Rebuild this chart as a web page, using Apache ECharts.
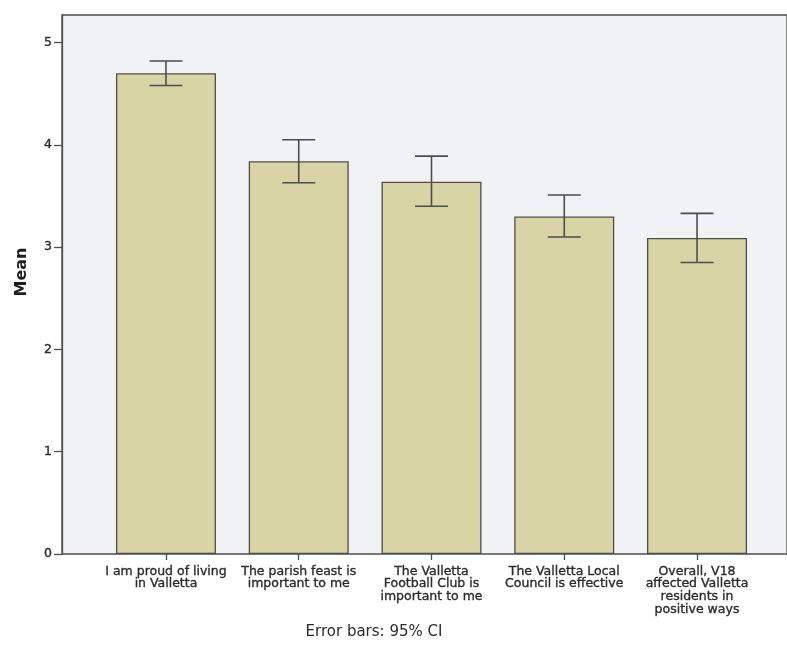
<!DOCTYPE html>
<html>
<head>
<meta charset="utf-8">
<title>Mean agreement scores</title>
<script src="https://cdn.jsdelivr.net/npm/echarts@6/dist/echarts.min.js"></script>
<style>
  html, body { margin: 0; padding: 0; background: #ffffff; }
  #chart { width: 787px; height: 648px; }
</style>
</head>
<body>
<div id="chart"></div>
<script>
// Survey statements (category labels, wrapped as printed under each bar)
var categories = [
  'I am proud of living\nin Valletta',
  'The parish feast is\nimportant to me',
  'The Valletta\nFootball Club is\nimportant to me',
  'The Valletta Local\nCouncil is effective',
  'Overall, V18\naffected Valletta\nresidents in\npositive ways'
];
// Mean score per statement
var means = [4.70, 3.84, 3.64, 3.30, 3.09];
// 95% confidence interval bounds
var ciLower = [4.58, 3.63, 3.40, 3.10, 2.85];
var ciUpper = [4.82, 4.05, 3.89, 3.51, 3.33];
// Value axis ticks
var yTicks = [0, 1, 2, 3, 4, 5];

var yMax = 5.27;
var textColor = '#2b2b2b';
var lineColor = '#4d4d4d';
var fontFamily = '"DejaVu Sans", Verdana, sans-serif';

var errorData = categories.map(function (c, i) { return [i, ciLower[i], ciUpper[i]]; });

var chart = echarts.init(document.getElementById('chart'), null, { renderer: 'canvas' });

chart.setOption({
  animation: false,
  backgroundColor: '#ffffff',
  textStyle: { fontFamily: fontFamily },
  grid: [
    // plot frame and background
    { left: 62, right: -14, top: 15, bottom: 94, show: true,
      backgroundColor: '#f1f2f4', borderColor: lineColor, borderWidth: 1.3 },
    // bar layout area
    { left: 99.6, right: 23.6, top: 15, bottom: 94 }
  ],
  xAxis: [
    { type: 'value', gridIndex: 0, min: 0, max: 1, show: false },
    {
      type: 'category', gridIndex: 1, data: categories,
      axisLine: { show: false },
      axisTick: { show: true, alignWithLabel: true, length: 6,
                  lineStyle: { color: lineColor, width: 1.3 } },
      axisLabel: { color: textColor, fontSize: 12.5, lineHeight: 12.7,
                   margin: 11, interval: 0, fontFamily: fontFamily,
                   textBorderColor: textColor, textBorderWidth: 0.35 },
      splitLine: { show: false }
    }
  ],
  yAxis: [
    {
      type: 'value', gridIndex: 0, min: 0, max: yMax,
      axisLine: { show: true, lineStyle: { color: lineColor, width: 1.3 } },
      axisTick: { show: true, length: 8, customValues: yTicks,
                  lineStyle: { color: lineColor, width: 1.3 } },
      axisLabel: {
        color: textColor, fontSize: 12.5, margin: 10, fontFamily: fontFamily,
        customValues: yTicks,
        textBorderColor: textColor, textBorderWidth: 0.35
      },
      splitLine: { show: false }
    },
    { type: 'value', gridIndex: 1, min: 0, max: yMax, show: false }
  ],
  series: [
    {
      type: 'bar', xAxisIndex: 1, yAxisIndex: 1,
      data: means, barWidth: 100,
      itemStyle: { color: '#d9d4a5', borderColor: lineColor, borderWidth: 1.3 }
    },
    {
      type: 'custom', xAxisIndex: 1, yAxisIndex: 1,
      data: errorData, z: 10,
      renderItem: function (params, api) {
        var i = api.value(0);
        var lo = api.coord([i, api.value(1)]);
        var hi = api.coord([i, api.value(2)]);
        var half = 16.5;
        var style = { stroke: lineColor, lineWidth: 1.6 };
        return {
          type: 'group',
          children: [
            { type: 'line', shape: { x1: hi[0], y1: hi[1], x2: lo[0], y2: lo[1] }, style: style },
            { type: 'line', shape: { x1: hi[0] - half, y1: hi[1], x2: hi[0] + half, y2: hi[1] }, style: style },
            { type: 'line', shape: { x1: lo[0] - half, y1: lo[1], x2: lo[0] + half, y2: lo[1] }, style: style }
          ]
        };
      }
    }
  ],
  graphic: [
    {
      type: 'text', x: 22, y: 272, rotation: Math.PI / 2,
      style: { text: 'Mean', fill: '#1e1e1e', font: 'bold 16px ' + fontFamily,
               align: 'center', verticalAlign: 'middle' }
    },
    {
      type: 'text', x: 374, y: 632,
      style: { text: 'Error bars: 95% CI', fill: textColor, font: '15px ' + fontFamily,
               align: 'center', verticalAlign: 'middle' }
    }
  ]
});
</script>
</body>
</html>
